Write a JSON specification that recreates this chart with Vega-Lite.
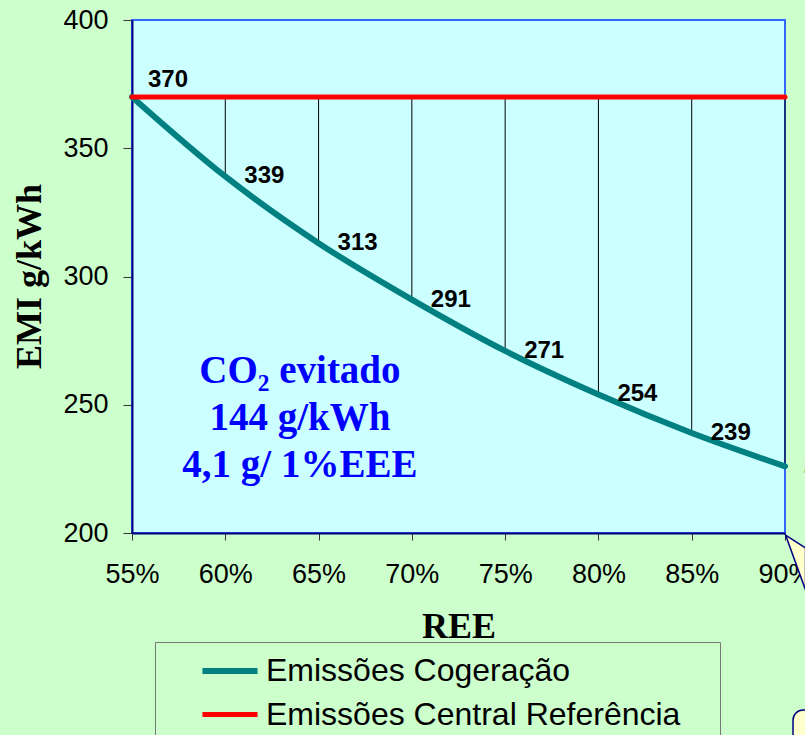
{
  "$schema": "https://vega.github.io/schema/vega-lite/v6.json",
  "width": 653,
  "height": 513,
  "autosize": "none",
  "padding": {"left": 132, "top": 20, "right": 20, "bottom": 202},
  "background": "#CCFFCC",
  "config": {
    "view": {"fill": "#CCFFFF", "stroke": "#3366FF", "strokeWidth": 2},
    "font": "Liberation Sans"
  },
  "datasets": {
    "emi": [
      {"REE": 0.55, "Emissões Cogeração": 370, "Emissões Central Referência": 370},
      {"REE": 0.60, "Emissões Cogeração": 339, "Emissões Central Referência": 370},
      {"REE": 0.65, "Emissões Cogeração": 313, "Emissões Central Referência": 370},
      {"REE": 0.70, "Emissões Cogeração": 291, "Emissões Central Referência": 370},
      {"REE": 0.75, "Emissões Cogeração": 271, "Emissões Central Referência": 370},
      {"REE": 0.80, "Emissões Cogeração": 254, "Emissões Central Referência": 370},
      {"REE": 0.85, "Emissões Cogeração": 239, "Emissões Central Referência": 370},
      {"REE": 0.90, "Emissões Cogeração": 226, "Emissões Central Referência": 370}
    ],
    "callout": [
      {"cx": 0.9003, "ctop": 199.2, "cbottom": 199.2},
      {"cx": 0.9110, "ctop": 194.2, "cbottom": 177.8}
    ],
    "calloutbox": [
      {"bx": 0.9043, "bx2": 0.94, "btop": 131, "bbottom": 90}
    ]
  },
  "data": {"name": "emi"},
  "layer": [
    {
      "transform": [{"filter": "datum.REE > 0.56"}],
      "mark": {"type": "rule", "color": "#000000", "strokeWidth": 1},
      "encoding": {
        "x": {"field": "REE", "type": "quantitative", "scale": {"domain": [0.55, 0.9], "nice": false, "zero": false}},
        "y": {"field": "Emissões Central Referência", "type": "quantitative", "scale": {"domain": [200, 400], "nice": false, "zero": false}},
        "y2": {"field": "Emissões Cogeração"}
      }
    },
    {
      "transform": [{"fold": ["Emissões Cogeração", "Emissões Central Referência"], "as": ["serie", "valor"]}],
      "mark": {"type": "line", "strokeCap": "round", "interpolate": "monotone"},
      "encoding": {
        "x": {
          "field": "REE", "type": "quantitative",
          "scale": {"domain": [0.55, 0.9], "nice": false, "zero": false},
          "axis": {
            "values": [0.55, 0.6, 0.65, 0.7, 0.75, 0.8, 0.85, 0.9],
            "format": ".0%",
            "labelFontSize": 27, "labelColor": "#000000", "labelFont": "Liberation Sans",
            "tickSize": 7, "tickColor": "#333333", "labelPadding": 21,
            "domainColor": "#000080", "domainWidth": 2, "grid": false,
            "labelFlush": false, "labelOverlap": false,
            "title": "REE", "titleFont": "Liberation Serif", "titleFontSize": 36,
            "titleFontWeight": "bold", "titleColor": "#000000",
            "titleY": 104, "titleBaseline": "alphabetic"
          }
        },
        "y": {
          "field": "valor", "type": "quantitative",
          "scale": {"domain": [200, 400], "nice": false, "zero": false},
          "axis": {
            "values": [200, 250, 300, 350, 400],
            "labelFontSize": 27, "labelColor": "#000000", "labelFont": "Liberation Sans",
            "tickSize": 9, "tickColor": "#333333", "labelPadding": 15,
            "domainColor": "#000080", "domainWidth": 2, "grid": false,
            "labelFlush": false, "labelOverlap": false,
            "title": "EMI g/kWh", "titleFont": "Liberation Serif", "titleFontSize": 36,
            "titleFontWeight": "bold", "titleColor": "#000000",
            "titleX": -92, "titleY": 256, "titleAngle": -90,
            "titleBaseline": "alphabetic", "titleAlign": "center"
          }
        },
        "strokeWidth": {
          "field": "serie", "type": "nominal",
          "scale": {"domain": ["Emissões Cogeração", "Emissões Central Referência"], "range": [6, 5]},
          "legend": null
        },
        "color": {
          "field": "serie", "type": "nominal",
          "scale": {"domain": ["Emissões Cogeração", "Emissões Central Referência"], "range": ["#008080", "#FF0000"]},
          "legend": {
            "title": null,
            "orient": "none",
            "legendX": 23,
            "legendY": 622,
            "padding": 7,
            "symbolOffset": 46,
            "symbolType": "M-1.45,0L1.45,0",
            "symbolSize": 1444,
            "symbolStrokeWidth": 6,
            "labelFontSize": 32,
            "labelFont": "Liberation Sans",
            "labelColor": "#000000",
            "labelOffset": 14,
            "labelLimit": 1000,
            "rowPadding": 6,
            "strokeColor": "#777777",
            "fillColor": "#CCFFCC",
            "labelExpr": "datum.label + '\u2003\u200b'"
          }
        }
      }
    },
    {
      "transform": [{"filter": "datum.REE < 0.56"}],
      "mark": {"type": "text", "font": "Liberation Sans", "fontWeight": "bold", "fontSize": 24, "color": "#000000", "align": "left", "baseline": "middle", "dx": 16, "dy": -17},
      "encoding": {
        "x": {"field": "REE", "type": "quantitative", "scale": {"domain": [0.55, 0.9], "nice": false, "zero": false}},
        "y": {"field": "Emissões Central Referência", "type": "quantitative", "scale": {"domain": [200, 400], "nice": false, "zero": false}},
        "text": {"field": "Emissões Central Referência", "type": "quantitative"}
      }
    },
    {
      "transform": [{"filter": "datum.REE > 0.56"}],
      "mark": {"type": "text", "font": "Liberation Sans", "fontWeight": "bold", "fontSize": 24, "color": "#000000", "align": "left", "baseline": "middle", "dx": 19},
      "encoding": {
        "x": {"field": "REE", "type": "quantitative", "scale": {"domain": [0.55, 0.9], "nice": false, "zero": false}},
        "y": {"field": "Emissões Cogeração", "type": "quantitative", "scale": {"domain": [200, 400], "nice": false, "zero": false}},
        "text": {"field": "Emissões Cogeração", "type": "quantitative"}
      }
    },
    {
      "data": {"values": [{}]},
      "mark": {
        "type": "text",
        "text": ["CO₂ evitado", "144 g/kWh", "4,1 g/ 1%EEE"],
        "font": "Liberation Serif", "fontWeight": "bold", "fontSize": 39,
        "color": "#0000FF", "align": "center", "baseline": "alphabetic", "lineHeight": 47
      },
      "encoding": {
        "x": {"datum": 0.64, "type": "quantitative", "scale": {"domain": [0.55, 0.9], "nice": false, "zero": false}},
        "y": {"datum": 258.5, "type": "quantitative", "scale": {"domain": [200, 400], "nice": false, "zero": false}}
      }
    },
    {
      "data": {"name": "callout"},
      "mark": {"type": "area", "fill": "#FFFFCC", "stroke": "#000080", "strokeWidth": 1.5, "clip": false},
      "encoding": {
        "x": {"field": "cx", "type": "quantitative", "scale": {"domain": [0.55, 0.9], "nice": false, "zero": false}},
        "y": {"field": "ctop", "type": "quantitative", "scale": {"domain": [200, 400], "nice": false, "zero": false}},
        "y2": {"field": "cbottom"}
      }
    },
    {
      "data": {"name": "calloutbox"},
      "mark": {"type": "rect", "fill": "#FFFFCC", "stroke": "#000080", "strokeWidth": 1.5, "cornerRadius": 10, "clip": false},
      "encoding": {
        "x": {"field": "bx", "type": "quantitative", "scale": {"domain": [0.55, 0.9], "nice": false, "zero": false}},
        "x2": {"field": "bx2"},
        "y": {"field": "btop", "type": "quantitative", "scale": {"domain": [200, 400], "nice": false, "zero": false}},
        "y2": {"field": "bbottom"}
      }
    }
  ]
}
